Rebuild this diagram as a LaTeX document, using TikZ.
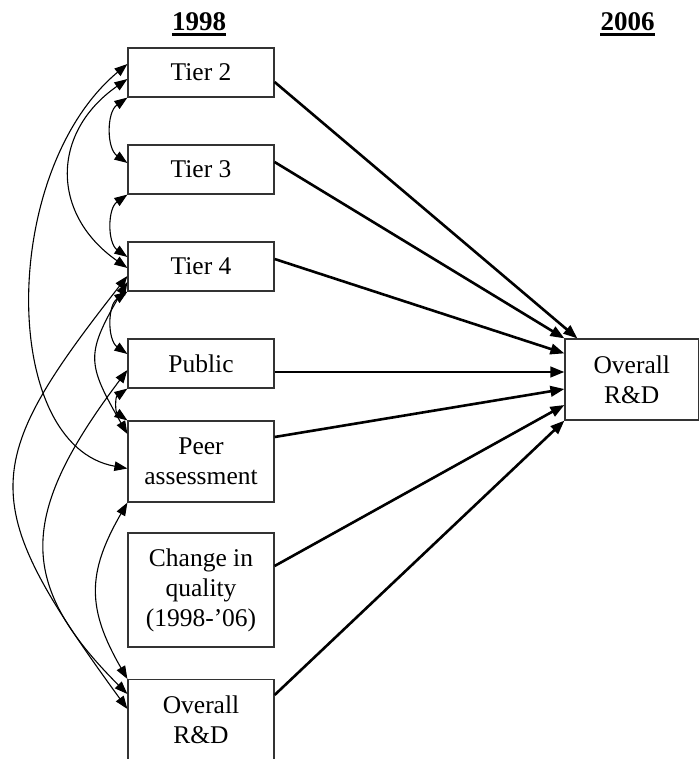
\documentclass[tikz,border=0pt]{standalone}
\usepackage{fontspec}
\setmainfont{Liberation Serif}
\usetikzlibrary{arrows.meta,calc}
\tikzset{
  >={Triangle[length=13pt,width=9.5pt]},
  box/.style={draw=black!80, line width=1.2pt, minimum width=146pt, minimum height=49pt,
              inner sep=0pt, align=center, font=\fontsize{25.5}{30}\selectfont},
  effect/.style={->, line width=2.6pt, >={Triangle[length=14pt,width=10.5pt]}},
  corr/.style={<->, line width=1.1pt},
  year/.style={anchor=base, inner sep=0pt, font=\fontsize{27}{30}\selectfont\bfseries},
  yearline/.style={line width=3pt},
}

\begin{document}
\begin{tikzpicture}[x=1pt,y=1pt]
\useasboundingbox (0,0) rectangle (699,-759);

% Years ------------------------------------------------------------------------
\node[year] (y98) at (199,-30.5) {1998};
\node[year] (y06) at (627.5,-30.5) {2006};
\draw[yearline] ([yshift=-4.1pt]y98.base west) -- ([yshift=-4.1pt]y98.base east);
\draw[yearline] ([yshift=-4.1pt]y06.base west) -- ([yshift=-4.1pt]y06.base east);

% 1998 column ------------------------------------------------------------------
\node[box] (tier2) at (201,-72.5) {Tier 2};
\node[box] (tier3) at (201,-169.5) {Tier 3};
\node[box] (tier4) at (201,-266.5) {Tier 4};
\node[box] (public) at (201,-363.5) {Public};
\node[box, minimum height=81pt] (peer) at (201,-461.5) {Peer\\assessment};
\node[box, minimum height=114pt] (change) at (201,-590) {Change in\\quality\\(1998-'06)};
\node[box, minimum height=81pt, anchor=north] (rd98) at (201,-679) {Overall\\R\&D};

% 2006 outcome -----------------------------------------------------------------
\node[box, minimum width=133.5pt, minimum height=81pt] (rd06) at (631.75,-379.5) {Overall\\R\&D};

% Paths to 2006
\draw[effect] ([yshift=-9.5pt]tier2.east) -- ([xshift=13pt]rd06.north west);
\draw[effect] ([yshift=7.5pt]tier3.east) -- (rd06.north west);
\draw[effect] ([yshift=7.5pt]tier4.east) -- ([yshift=-15pt]rd06.north west);
\draw[effect] ([yshift=-8.5pt]public.east) -- ([yshift=7.5pt]rd06.west);
\draw[effect] ([yshift=24.5pt]peer.east) -- ([yshift=-9.5pt]rd06.west);
\draw[effect] ([yshift=24pt]change.east) -- ([yshift=-25.5pt]rd06.west);
\draw[effect] ([yshift=-16pt]rd98.north east) -- (rd06.south west);

% Correlations among 1998 measures
\draw[corr] (tier2.south west) to[out=215,in=145,looseness=1] ([yshift=6.5pt]tier3.west);
\draw[corr] (tier3.south west) to[out=215,in=145,looseness=1] ([yshift=9.5pt]tier4.west);
\draw[corr] (tier4.south west) to[out=215,in=145,looseness=1] ([yshift=9.5pt]public.west);
\draw[corr] (public.south west) to[out=215,in=145,looseness=1.2] (peer.north west);
\draw[corr] ([yshift=-6.5pt]tier2.west) to[out=215,in=145,looseness=1.27] ([yshift=-1.5pt]tier4.west);
\draw[corr] ([yshift=8.5pt]tier2.west) .. controls +(-128,-107) and +(-128,23) .. ([yshift=-7pt]peer.west);
\draw[corr] ([yshift=-15.5pt]tier4.west) to[out=240,in=120,looseness=1.4] ([yshift=27.5pt]peer.west);
\draw[corr] ([yshift=-9.5pt]tier4.west) .. controls +(-150,-191) and +(-150,206) .. ([yshift=-30pt]rd98.north west);
\draw[corr] ([yshift=-6.5pt]public.west) .. controls +(-110,-146) and +(-110,110) .. ([yshift=-15pt]rd98.north west);
\draw[corr] (peer.south west) to[out=240,in=120,looseness=1.18] (rd98.north west);

\end{tikzpicture}
\end{document}
